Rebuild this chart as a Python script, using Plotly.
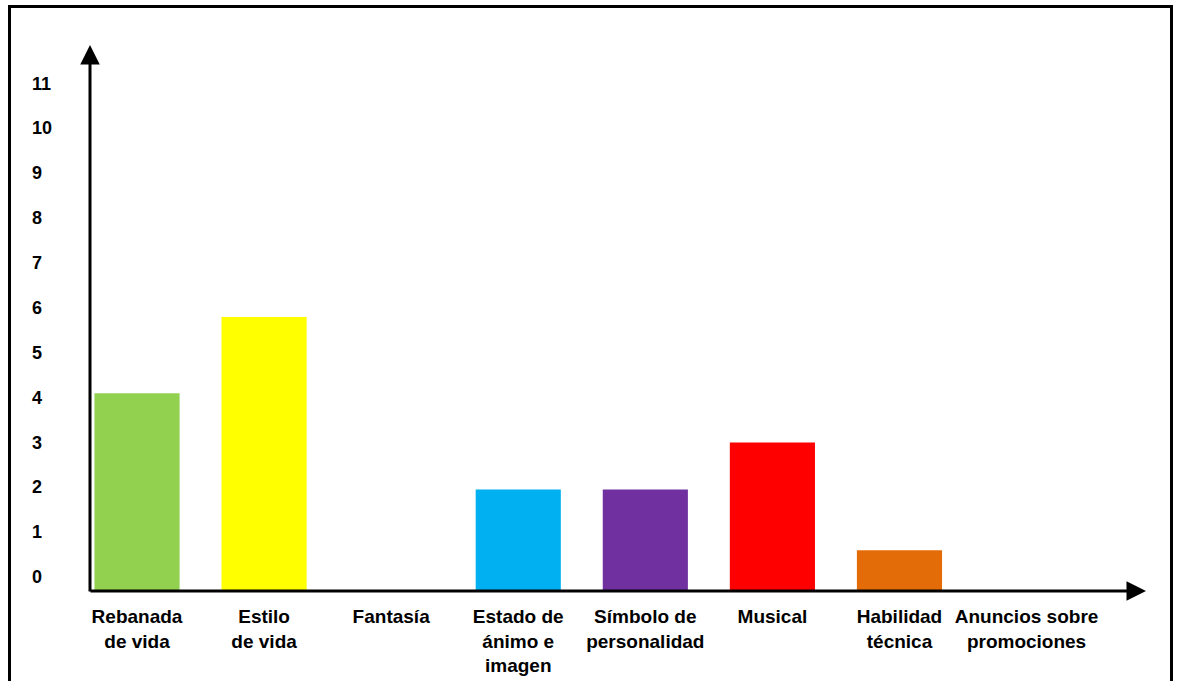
import plotly.graph_objects as go

# Data
categories = [
    "Rebanada<br>de vida",
    "Estilo<br>de vida",
    "Fantasía",
    "Estado de<br>ánimo e<br>imagen",
    "Símbolo de<br>personalidad",
    "Musical",
    "Habilidad<br>técnica",
    "Anuncios sobre<br>promociones",
]
values = [4.1, 5.8, 0, 1.95, 1.95, 3.0, 0.6, 0]
bar_colors = ["#92D050", "#FFFF00", "#92D050", "#00B0F0", "#7030A0",
              "#FF0000", "#E36C09", "#92D050"]
y_ticks = list(range(0, 12))

# Layout geometry (pixels)
W, H = 1177, 681
ML, MR, MT, MB = 90, 31, 45, 90
Y_FLOOR = -0.31          # the drawn axis sits a little below the "0" label
Y_TOP = 11.86
X_RANGE = [-0.37, 7.94]

FONT = "Arial, Liberation Sans, sans-serif"

plot_w = W - ML - MR
plot_h = H - MT - MB


def px_to_paper_x(px):
    return (px - ML) / plot_w


def px_to_paper_y(py):
    return (H - MB - py) / plot_h


# bars rise from the axis line; empty categories draw nothing
heights = [v - Y_FLOOR if v > 0 else None for v in values]

fig = go.Figure(
    go.Bar(
        x=categories,
        y=heights,
        base=Y_FLOOR,
        marker=dict(color=bar_colors, line=dict(width=0)),
        width=0.67,
        hoverinfo="skip",
    )
)

annotations = []
# y tick labels, left aligned
for t in y_ticks:
    annotations.append(dict(
        x=0, xref="paper", xshift=-60, xanchor="left",
        y=t, yref="y", yanchor="middle",
        text=f"<b>{t}</b>", showarrow=False,
        font=dict(family=FONT, size=18, color="black"),
    ))

# axis arrows
annotations.append(dict(
    x=0, y=1, xref="paper", yref="paper",
    ax=0, ay=plot_h + 2, axref="pixel", ayref="pixel",
    showarrow=True, arrowhead=2, arrowsize=1.3, arrowwidth=3,
    arrowcolor="black", text="", standoff=0,
))
annotations.append(dict(
    x=1, y=0, xref="paper", yref="paper",
    ax=-(plot_w + 1), ay=0, axref="pixel", ayref="pixel",
    showarrow=True, arrowhead=2, arrowsize=1.3, arrowwidth=3,
    arrowcolor="black", text="", standoff=0,
))

# outer frame (bottom edge runs off the page)
shapes = [dict(
    type="rect", xref="paper", yref="paper",
    x0=px_to_paper_x(9.5), x1=px_to_paper_x(1171.5),
    y0=px_to_paper_y(720), y1=px_to_paper_y(6.5),
    line=dict(color="black", width=3), fillcolor="rgba(0,0,0,0)",
    layer="below",
)]

fig.update_layout(
    width=W, height=H,
    margin=dict(l=ML, r=MR, t=MT, b=MB, autoexpand=False),
    paper_bgcolor="white", plot_bgcolor="white",
    showlegend=False,
    annotations=annotations,
    shapes=shapes,
    xaxis=dict(
        range=X_RANGE, showgrid=False, zeroline=False, showline=False,
        ticks="", ticklabelstandoff=12, automargin=False,
        tickfont=dict(family=FONT, size=19, color="black"),
        tickangle=0,
    ),
    yaxis=dict(
        range=[Y_FLOOR, Y_TOP], showgrid=False, zeroline=False,
        showline=False, showticklabels=False, ticks="", automargin=False,
    ),
)

# bold category labels
fig.update_xaxes(
    tickmode="array",
    tickvals=categories,
    ticktext=[f"<b>{c}</b>" for c in categories],
)

fig.write_html("out.html")
